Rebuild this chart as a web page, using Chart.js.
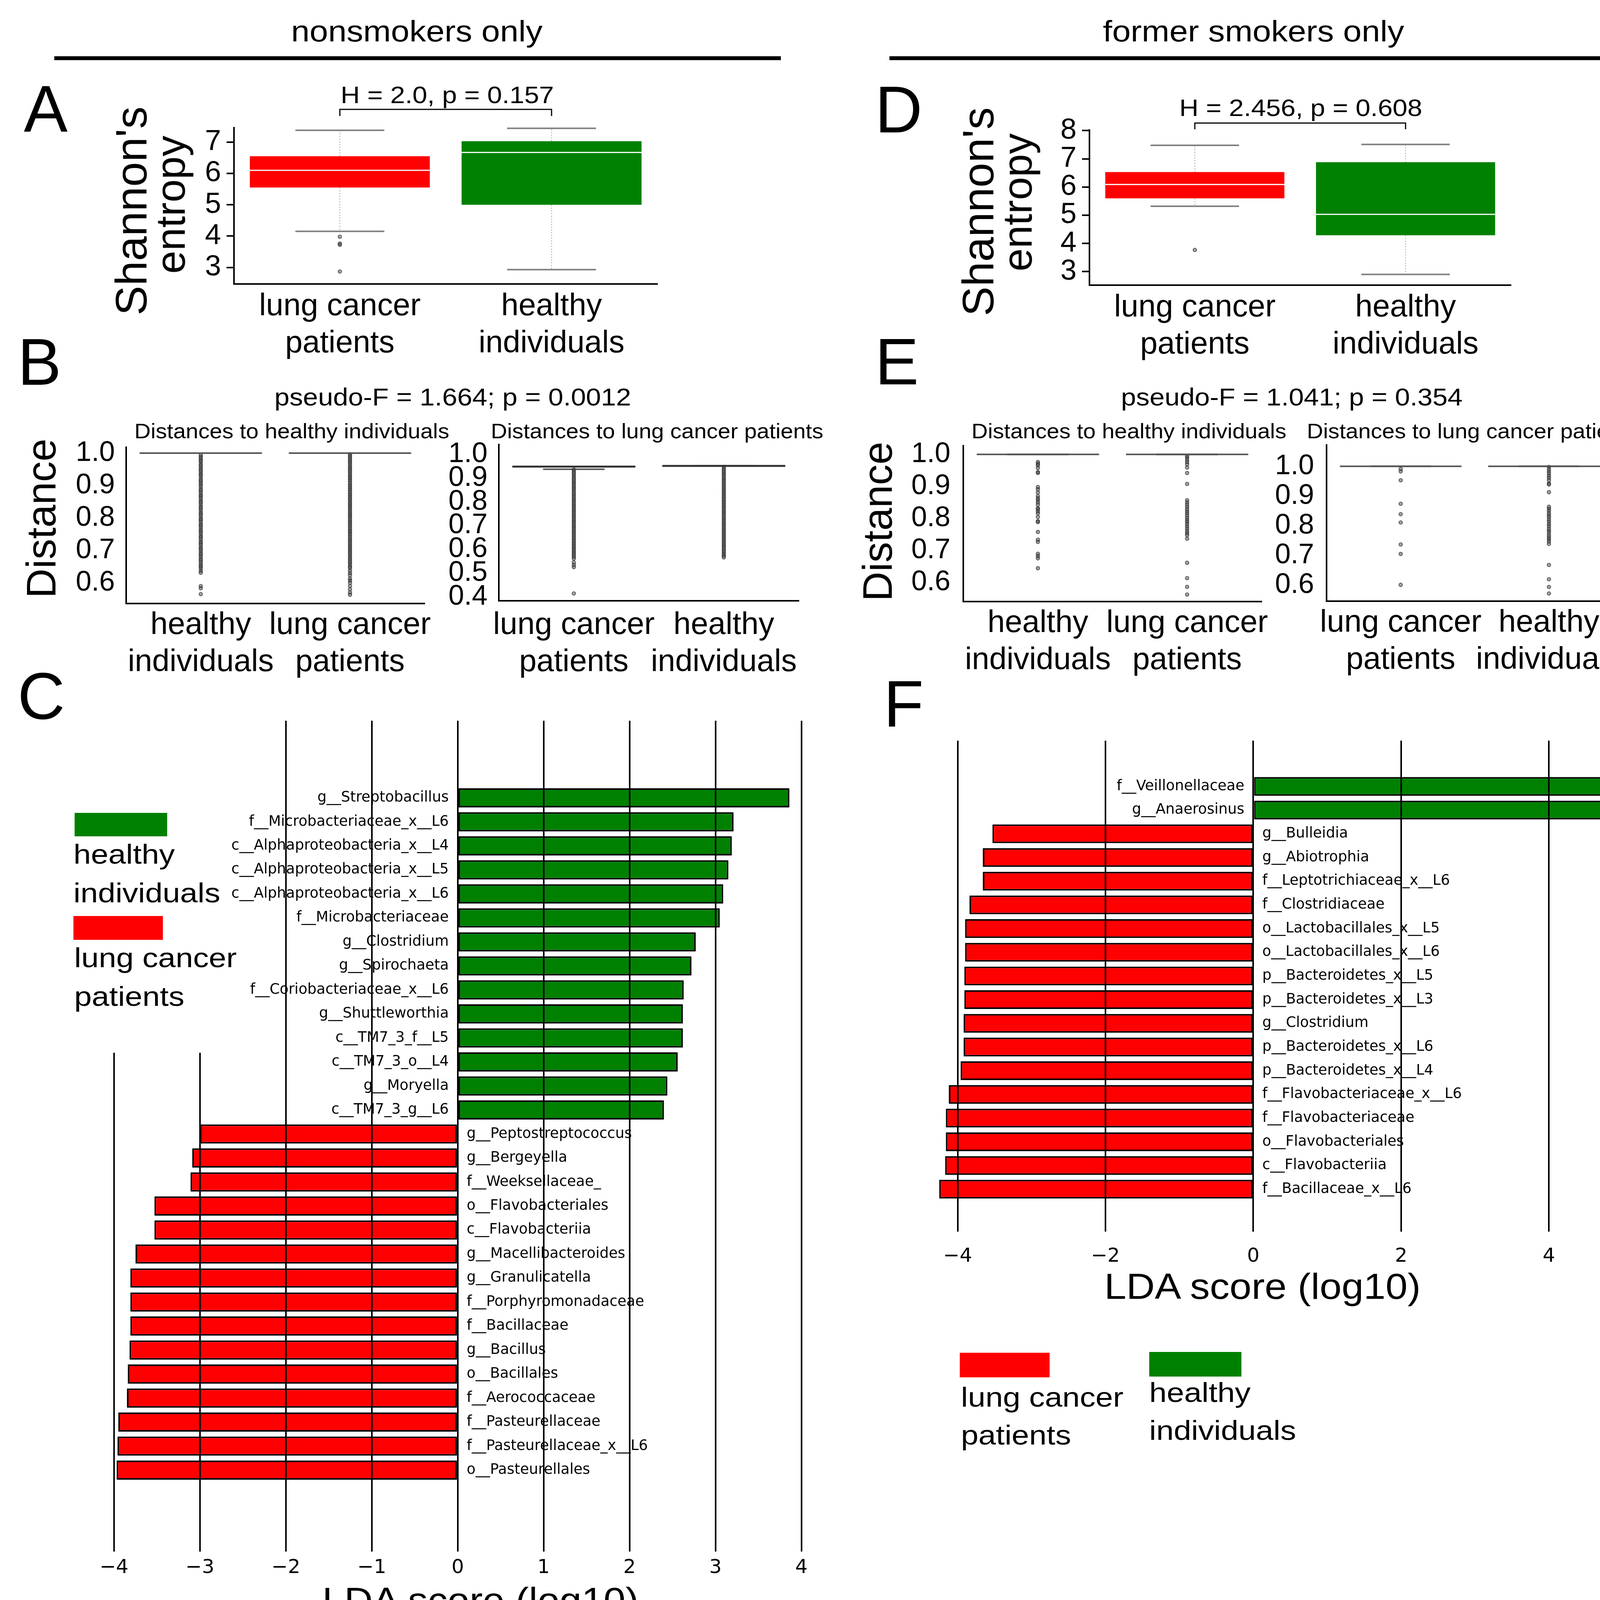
<!DOCTYPE html>
<html><head><meta charset="utf-8"><title>Microbiome diversity and LEfSe</title>
<script src="https://cdn.jsdelivr.net/npm/chart.js@4.4.1/dist/chart.umd.min.js"></script>
<style>
html,body{margin:0;padding:0;background:#fff}
body{position:relative;width:4236px;height:4198px;overflow:hidden}
canvas{position:absolute}
.t{position:absolute;white-space:nowrap;line-height:1;color:#000;font-family:'Liberation Sans',Arial,sans-serif}
.r{position:absolute}
</style></head><body>
<script>
// ================= DATA =================
const groupTitles = ['nonsmokers only', 'former smokers only'];
const lungLines = ['lung cancer', 'patients'];
const healthyLines = ['healthy', 'individuals'];
const catLung = 'lung cancer patients';
const catHealthy = 'healthy individuals';

// Panel A : Shannon entropy, nonsmokers (lung, healthy)
const aLow = [4.15, 2.93];
const aQ1 = [5.55, 5.00];
const aMed = [6.10, 6.67];
const aQ3 = [6.55, 7.03];
const aHigh = [7.38, 7.44];
const aOutLung = [3.98, 3.76, 3.72, 2.87];
const aTicks = [3, 4, 5, 6, 7];
const aStat = 'H = 2.0, p = 0.157';

// Panel D : Shannon entropy, former smokers (lung, healthy)
const dLow = [5.32, 2.90];
const dQ1 = [5.60, 4.29];
const dMed = [6.09, 5.03];
const dQ3 = [6.53, 6.88];
const dHigh = [7.48, 7.51];
const dOutLung = [3.77];
const dTicks = [3, 4, 5, 6, 7, 8];
const dStat = 'H = 2.456, p = 0.608';

// Panel B : distances (nonsmokers)
const bStat = 'pseudo-F = 1.664; p = 0.0012';
const b1Title = 'Distances to healthy individuals';
const b2Title = 'Distances to lung cancer patients';
const b1Box = [1.0, 1.0];             // healthy, lung
const b2Box = [0.949, 0.952];         // lung, healthy
const b2Low = [0.938, 0.952];
const b1Healthy = [0.995,0.989,0.984,0.978,0.973,0.966,0.961,0.955,0.949,0.944,0.937,0.932,0.926,0.919,0.914,0.908,0.902,0.896,0.889,0.884,0.878,0.871,0.866,0.86,0.853,0.848,0.842,0.835,0.83,0.824,0.817,0.812,0.806,0.799,0.794,0.788,0.781,0.776,0.77,0.763,0.758,0.752,0.745,0.74,0.734,0.727,0.722,0.716,0.709,0.704,0.698,0.691,0.686,0.68,0.673,0.668,0.662,0.655,0.65,0.644,0.637,0.631,0.59,0.583,0.565];
const b1Lung = [0.997,0.992,0.986,0.981,0.975,0.97,0.964,0.958,0.953,0.947,0.942,0.936,0.93,0.925,0.919,0.914,0.908,0.902,0.897,0.891,0.886,0.88,0.874,0.869,0.863,0.858,0.852,0.846,0.841,0.835,0.83,0.824,0.818,0.813,0.807,0.802,0.796,0.79,0.785,0.779,0.774,0.768,0.762,0.757,0.751,0.746,0.74,0.734,0.729,0.723,0.718,0.712,0.706,0.701,0.695,0.69,0.684,0.678,0.673,0.667,0.662,0.656,0.65,0.645,0.637,0.63,0.623,0.613,0.607,0.6,0.59,0.58,0.57,0.563];
const b2Lung = [0.936,0.928,0.921,0.913,0.905,0.898,0.89,0.882,0.875,0.867,0.859,0.852,0.844,0.836,0.829,0.821,0.813,0.806,0.798,0.79,0.783,0.775,0.767,0.76,0.752,0.744,0.737,0.729,0.721,0.714,0.706,0.698,0.691,0.683,0.675,0.668,0.66,0.652,0.645,0.637,0.629,0.622,0.614,0.606,0.599,0.591,0.583,0.576,0.568,0.561,0.545,0.534,0.525,0.414];
const b2Healthy = [0.948,0.94,0.933,0.925,0.917,0.91,0.902,0.894,0.887,0.879,0.871,0.864,0.856,0.848,0.841,0.833,0.825,0.818,0.81,0.802,0.795,0.787,0.779,0.772,0.764,0.756,0.749,0.741,0.733,0.726,0.718,0.71,0.703,0.695,0.687,0.68,0.672,0.664,0.657,0.649,0.641,0.634,0.626,0.618,0.611,0.603,0.595,0.588,0.58,0.573,0.566];
const b1Ticks = [0.6, 0.7, 0.8, 0.9, 1.0];
const b2Ticks = [0.4, 0.5, 0.6, 0.7, 0.8, 0.9, 1.0];

// Panel E : distances (former smokers)
const eStat = 'pseudo-F = 1.041; p = 0.354';
const e1Box = [1.0, 1.0];             // healthy, lung
const e2Box = [1.0, 1.0];             // lung, healthy
const e1Healthy = [0.976,0.971,0.966,0.958,0.945,0.942,0.898,0.891,0.881,0.870,0.863,0.857,0.850,0.843,0.832,0.829,0.822,0.816,0.805,0.792,0.789,0.758,0.734,0.727,0.690,0.683,0.676,0.645];
const e1Lung = [0.995,0.990,0.983,0.976,0.969,0.959,0.942,0.908,0.857,0.850,0.843,0.836,0.829,0.822,0.816,0.809,0.802,0.795,0.789,0.782,0.775,0.768,0.761,0.754,0.748,0.737,0.662,0.614,0.587,0.563];
const e2Lung = [0.991,0.983,0.953,0.874,0.839,0.811,0.737,0.705,0.601];
const e2Healthy = [0.998,0.990,0.983,0.976,0.968,0.961,0.953,0.942,0.939,0.913,0.864,0.857,0.850,0.842,0.835,0.828,0.820,0.813,0.805,0.798,0.790,0.783,0.776,0.768,0.761,0.754,0.747,0.739,0.668,0.620,0.594,0.572];
const eTicks = [0.6, 0.7, 0.8, 0.9, 1.0];

// Panel C : LEfSe nonsmokers
const cNames = ['g__Streptobacillus','f__Microbacteriaceae_x__L6','c__Alphaproteobacteria_x__L4','c__Alphaproteobacteria_x__L5','c__Alphaproteobacteria_x__L6','f__Microbacteriaceae','g__Clostridium','g__Spirochaeta','f__Coriobacteriaceae_x__L6','g__Shuttleworthia','c__TM7_3_f__L5','c__TM7_3_o__L4','g__Moryella','c__TM7_3_g__L6','g__Peptostreptococcus','g__Bergeyella','f__Weeksellaceae_','o__Flavobacteriales','c__Flavobacteriia','g__Macellibacteroides','g__Granulicatella','f__Porphyromonadaceae','f__Bacillaceae','g__Bacillus','o__Bacillales','f__Aerococcaceae','f__Pasteurellaceae','f__Pasteurellaceae_x__L6','o__Pasteurellales'];
const cLda = [3.86,3.21,3.19,3.15,3.09,3.05,2.77,2.72,2.63,2.62,2.62,2.56,2.44,2.40,-3.00,-3.09,-3.11,-3.53,-3.53,-3.75,-3.81,-3.81,-3.81,-3.82,-3.84,-3.85,-3.95,-3.96,-3.97];
const cTicks = [-4,-3,-2,-1,0,1,2,3,4];

// Panel F : LEfSe former smokers
const fNames = ['f__Veillonellaceae','g__Anaerosinus','g__Bulleidia','g__Abiotrophia','f__Leptotrichiaceae_x__L6','f__Clostridiaceae','o__Lactobacillales_x__L5','o__Lactobacillales_x__L6','p__Bacteroidetes_x__L5','p__Bacteroidetes_x__L3','g__Clostridium','p__Bacteroidetes_x__L6','p__Bacteroidetes_x__L4','f__Flavobacteriaceae_x__L6','f__Flavobacteriaceae','o__Flavobacteriales','c__Flavobacteriia','f__Bacillaceae_x__L6'];
const fLda = [4.81,4.77,-3.53,-3.66,-3.66,-3.84,-3.90,-3.90,-3.91,-3.91,-3.92,-3.92,-3.96,-4.12,-4.16,-4.16,-4.17,-4.25];
const fTicks = [-4,-2,0,2,4];

const ldaTitle = 'LDA score (log10)';
const yTitleEntropy = ["Shannon's", 'entropy'];
const yTitleDistance = 'Distance';

// ================= STYLE / HELPERS =================
const RED = '#ff0000', GREEN = '#008000';
const ARIAL = "'Liberation Sans', Arial, Helvetica, sans-serif";
const DJ = "'DejaVu Sans', 'Liberation Sans', sans-serif";
Chart.defaults.font.family = ARIAL;
Chart.defaults.color = '#000';

function txt(s, x, base, size, align, sx, family) {
  const d = document.createElement('div');
  d.className = 't';
  d.textContent = s;
  d.style.fontSize = size + 'px';
  if (family) d.style.fontFamily = family;
  d.style.left = x + 'px';
  d.style.top = (base - 0.8465 * size) + 'px';
  const k = sx || 1;
  if (align === 'center') { d.style.transformOrigin = '50% 50%'; d.style.transform = 'translateX(-50%) scaleX(' + k + ')'; }
  else if (align === 'right') { d.style.transformOrigin = '100% 50%'; d.style.transform = 'translateX(-100%) scaleX(' + k + ')'; }
  else { d.style.transformOrigin = '0 50%'; d.style.transform = 'scaleX(' + k + ')'; }
  document.body.appendChild(d);
}
function rtxt(s, cx, cy, size) {
  const d = document.createElement('div');
  d.className = 't';
  d.textContent = s;
  d.style.fontSize = size + 'px';
  d.style.left = cx + 'px';
  d.style.top = cy + 'px';
  d.style.transform = 'translate(-50%,-50%) rotate(-90deg)';
  document.body.appendChild(d);
}
function rect(x, y, w, h, color) {
  const d = document.createElement('div');
  d.className = 'r';
  d.style.left = x + 'px'; d.style.top = y + 'px';
  d.style.width = w + 'px'; d.style.height = h + 'px';
  d.style.background = color;
  document.body.appendChild(d);
}
function mkCanvas(l, t, w, h) {
  const c = document.createElement('canvas');
  c.width = w; c.height = h;
  c.style.left = l + 'px'; c.style.top = t + 'px';
  c.style.width = w + 'px'; c.style.height = h + 'px';
  document.body.appendChild(c);
  return c;
}
function seg(ctx, x1, y1, x2, y2) { ctx.beginPath(); ctx.moveTo(x1, y1); ctx.lineTo(x2, y2); ctx.stroke(); }

// ----- box plot chart built from floating bars + points + plugin whiskers -----
function boxChart(s) {
  const pad = 24, padTop = s.padTop || 60, bottomSpace = 230;
  const W = s.area.r - s.area.l + s.leftSpace + 2 * pad;
  const H = s.area.b - s.area.t + bottomSpace + padTop + pad;
  const c = mkCanvas(s.area.l - s.leftSpace - pad, s.area.t - padTop, W, H);
  const pts = [];
  s.pts.forEach((arr, i) => arr.forEach(v => pts.push({ x: s.cats[i], y: v })));
  const plug = {
    id: 'boxparts',
    beforeDatasetsDraw(chart) {
      const ctx = chart.ctx, x = chart.scales.x, y = chart.scales.y;
      const cw = Math.abs(x.getPixelForValue(1) - x.getPixelForValue(0));
      ctx.save();
      s.low.forEach((lo, i) => {
        const cx = x.getPixelForValue(i);
        ctx.strokeStyle = '#a8a8a8'; ctx.lineWidth = 2; ctx.setLineDash([3, 4]);
        if (s.high[i] > s.q3[i]) seg(ctx, cx, y.getPixelForValue(s.q3[i]), cx, y.getPixelForValue(s.high[i]));
        if (s.q1[i] > lo) seg(ctx, cx, y.getPixelForValue(s.q1[i]), cx, y.getPixelForValue(lo));
        ctx.setLineDash([]); ctx.strokeStyle = s.capColor; ctx.lineWidth = 4;
        const hw = cw * s.capPct / 2;
        seg(ctx, cx - hw, y.getPixelForValue(s.high[i]), cx + hw, y.getPixelForValue(s.high[i]));
        seg(ctx, cx - hw, y.getPixelForValue(lo), cx + hw, y.getPixelForValue(lo));
      });
      ctx.restore();
    },
    afterDatasetsDraw(chart) {
      const ctx = chart.ctx, x = chart.scales.x, y = chart.scales.y;
      const cw = Math.abs(x.getPixelForValue(1) - x.getPixelForValue(0));
      ctx.save();
      ctx.strokeStyle = s.medColor; ctx.lineWidth = s.medWidth || 3;
      s.med.forEach((m, i) => {
        const cx = x.getPixelForValue(i), hw = cw * s.boxPct / 2;
        seg(ctx, cx - hw, y.getPixelForValue(m), cx + hw, y.getPixelForValue(m));
      });
      if (s.bracket) {
        const top = chart.chartArea.top;
        const x0 = x.getPixelForValue(0), x1 = x.getPixelForValue(1);
        const yb = top - s.bracket[0], yd = top - s.bracket[1];
        ctx.strokeStyle = '#000'; ctx.lineWidth = 3;
        ctx.beginPath(); ctx.moveTo(x0, yd); ctx.lineTo(x0, yb); ctx.lineTo(x1, yb); ctx.lineTo(x1, yd); ctx.stroke();
      }
      ctx.restore();
    }
  };
  return new Chart(c, {
    type: 'bar',
    data: {
      labels: s.cats,
      datasets: [
        { type: 'bar', data: s.q1.map((v, i) => [v, s.q3[i]]), backgroundColor: s.colors, borderWidth: 0,
          barPercentage: s.boxPct, categoryPercentage: 1, order: 2 },
        { type: 'line', data: pts, showLine: false, pointRadius: s.ptR, pointBackgroundColor: 'rgba(70,70,70,0.5)',
          pointBorderColor: 'rgba(30,30,30,0.8)', pointBorderWidth: 1.6, order: 1 }
      ]
    },
    options: {
      responsive: false, animation: false, devicePixelRatio: 1,
      layout: { padding: { left: pad, right: pad, top: padTop, bottom: pad } },
      plugins: { legend: { display: false }, tooltip: { enabled: false } },
      scales: {
        x: {
          type: 'category', offset: true,
          grid: { display: false },
          border: { display: true, color: '#000', width: 4 },
          ticks: { callback: (v, i) => s.lines[i], font: { size: 80, lineHeight: 1.19 }, color: '#000',
                   padding: s.xPad, maxRotation: 0, minRotation: 0, autoSkip: false },
          afterFit: sc => { sc.height = bottomSpace; }
        },
        y: {
          min: s.yMin, max: s.yMax,
          afterBuildTicks: sc => { sc.ticks = s.yTicks.map(v => ({ value: v })); },
          grid: { display: s.tickMarks, drawOnChartArea: false, drawTicks: true, tickLength: 19, color: '#000', lineWidth: 4 },
          border: { display: true, color: '#000', width: 4 },
          ticks: { callback: (v, i) => s.yLabels[i], font: { size: s.yFont }, color: '#000', padding: s.yPad, autoSkip: false },
          afterFit: sc => { sc.width = s.leftSpace; }
        }
      }
    },
    plugins: [plug]
  });
}

// ----- LEfSe horizontal bars -----
function ldaChart(s) {
  const pad = 10;
  const W = s.area.r - s.area.l + 2 * pad;
  const H = s.area.b - s.area.t + s.bottomSpace + 2 * pad;
  const c = mkCanvas(s.area.l - pad, s.area.t - pad, W, H);
  const plug = {
    id: 'ldalabels',
    afterDatasetsDraw(chart) {
      const ctx = chart.ctx, x = chart.scales.x, y = chart.scales.y;
      const x0 = x.getPixelForValue(0);
      ctx.save();
      ctx.font = '37px ' + DJ; ctx.fillStyle = '#000'; ctx.textBaseline = 'middle';
      s.names.forEach((n, i) => {
        const py = y.getPixelForValue(i);
        if (s.vals[i] > 0) { ctx.textAlign = 'right'; ctx.fillText(n, x0 - 23, py); }
        else { ctx.textAlign = 'left'; ctx.fillText(n, x0 + 23, py); }
      });
      ctx.restore();
    }
  };
  return new Chart(c, {
    type: 'bar',
    data: {
      datasets: [{
        data: s.vals.map((v, i) => ({ x: v, y: i })),
        backgroundColor: s.vals.map(v => v > 0 ? GREEN : RED),
        borderColor: '#000', borderWidth: 4, borderSkipped: false,
        barPercentage: 0.8, categoryPercentage: 1
      }]
    },
    options: {
      indexAxis: 'y', responsive: false, animation: false, devicePixelRatio: 1,
      layout: { padding: pad },
      plugins: { legend: { display: false }, tooltip: { enabled: false } },
      scales: {
        y: { type: 'linear', reverse: true, min: s.yMin, max: s.yMax, display: false },
        x: {
          type: 'linear', min: s.xMin, max: s.xMax,
          afterBuildTicks: sc => { sc.ticks = s.ticks.map(v => ({ value: v })); },
          grid: { color: '#000', lineWidth: 4, z: 1, drawTicks: false },
          border: { display: false },
          ticks: { callback: (v, i) => String(s.ticks[i]).replace('-', '\u2212'), font: { family: DJ, size: 50 },
                   color: '#000', padding: s.tickPad, maxRotation: 0, autoSkip: false },
          afterFit: sc => { sc.height = s.bottomSpace; }
        }
      }
    },
    plugins: [plug]
  });
}

// ================= BUILD =================
// Panel A
boxChart({
  area: { l: 599, t: 327, r: 1683, b: 727 }, leftSpace: 120, padTop: 80,
  cats: [catLung, catHealthy], lines: [lungLines, healthyLines], colors: [RED, GREEN],
  low: aLow, q1: aQ1, med: aMed, q3: aQ3, high: aHigh, pts: [aOutLung, []],
  yMin: 2.47, yMax: 7.46, yTicks: aTicks, yLabels: aTicks.map(String), yFont: 74, yPad: 14, tickMarks: true,
  boxPct: 0.85, capPct: 0.42, capColor: '#808080', medColor: '#ffffff', medWidth: 3, ptR: 4.5,
  xPad: 2, bracket: [47, 30]
});
// Panel D
boxChart({
  area: { l: 2789, t: 333, r: 3868, b: 730 }, leftSpace: 120, padTop: 80,
  cats: [catLung, catHealthy], lines: [lungLines, healthyLines], colors: [RED, GREEN],
  low: dLow, q1: dQ1, med: dMed, q3: dQ3, high: dHigh, pts: [dOutLung, []],
  yMin: 2.52, yMax: 8.02, yTicks: dTicks, yLabels: dTicks.map(String), yFont: 74, yPad: 14, tickMarks: true,
  boxPct: 0.85, capPct: 0.42, capColor: '#808080', medColor: '#ffffff', medWidth: 3, ptR: 4.5,
  xPad: 2, bracket: [18, 2]
});
// Panel B
boxChart({
  area: { l: 323, t: 1145, r: 1087, b: 1545 }, leftSpace: 130,
  cats: [catHealthy, catLung], lines: [healthyLines, lungLines], colors: ['rgba(0,0,0,0)', 'rgba(0,0,0,0)'],
  low: b1Box, q1: b1Box, med: b1Box, q3: b1Box, high: b1Box, pts: [b1Healthy, b1Lung],
  yMin: 0.536, yMax: 1.018, yTicks: b1Ticks, yLabels: b1Ticks.map(v => v.toFixed(1)), yFont: 72, yPad: 10, tickMarks: false,
  boxPct: 0.82, capPct: 0.41, capColor: '#555555', medColor: '#555555', medWidth: 4, ptR: 4.5, xPad: 0
});
boxChart({
  area: { l: 1277, t: 1138, r: 2045, b: 1538 }, leftSpace: 130,
  cats: [catLung, catHealthy], lines: [lungLines, healthyLines], colors: ['rgba(0,0,0,0)', 'rgba(0,0,0,0)'],
  low: b2Low, q1: b2Box, med: b2Box, q3: b2Box, high: b2Box, pts: [b2Lung, b2Healthy],
  yMin: 0.383, yMax: 1.042, yTicks: b2Ticks, yLabels: b2Ticks.map(v => v.toFixed(1)), yFont: 72, yPad: 10, tickMarks: false,
  boxPct: 0.82, capPct: 0.41, capColor: '#555555', medColor: '#333333', medWidth: 5, ptR: 4.5, xPad: 7
});
// Panel E
boxChart({
  area: { l: 2466, t: 1141, r: 3230, b: 1540 }, leftSpace: 130,
  cats: [catHealthy, catLung], lines: [healthyLines, lungLines], colors: ['rgba(0,0,0,0)', 'rgba(0,0,0,0)'],
  low: e1Box, q1: e1Box, med: e1Box, q3: e1Box, high: e1Box, pts: [e1Healthy, e1Lung],
  yMin: 0.541, yMax: 1.027, yTicks: eTicks, yLabels: eTicks.map(v => v.toFixed(1)), yFont: 72, yPad: 14, tickMarks: false,
  boxPct: 0.82, capPct: 0.41, capColor: '#555555', medColor: '#555555', medWidth: 4, ptR: 4.5, xPad: 0
});
boxChart({
  area: { l: 3396, t: 1139, r: 4155, b: 1539 }, leftSpace: 130,
  cats: [catLung, catHealthy], lines: [lungLines, healthyLines], colors: ['rgba(0,0,0,0)', 'rgba(0,0,0,0)'],
  low: e2Box, q1: e2Box, med: e2Box, q3: e2Box, high: e2Box, pts: [e2Lung, e2Healthy],
  yMin: 0.546, yMax: 1.072, yTicks: eTicks, yLabels: eTicks.map(v => v.toFixed(1)), yFont: 72, yPad: 13, tickMarks: false,
  boxPct: 0.82, capPct: 0.41, capColor: '#555555', medColor: '#555555', medWidth: 4, ptR: 4.5, xPad: 0
});
// Panel C
ldaChart({
  area: { l: 248, t: 1845, r: 2210, b: 3972 }, bottomSpace: 110, tickPad: 12,
  names: cNames, vals: cLda, ticks: cTicks, xMin: -4.2, xMax: 4.72, yMin: -1.05, yMax: 29.23
});
// Panel F
ldaChart({
  area: { l: 2376, t: 1896, r: 4145, b: 3153 }, bottomSpace: 110, tickPad: 34,
  names: fNames, vals: fLda, ticks: fTicks, xMin: -4.4, xMax: 4.95, yMin: -0.99, yMax: 17.85
});

// ================= TEXT / DECORATION =================
txt(groupTitles[0], 1067, 106, 76, 'center', 1.12);
txt(groupTitles[1], 3209, 106, 76, 'center', 1.12);
rect(139, 144, 1860, 10, '#000');
rect(2277, 144, 1861, 10, '#000');

txt('A', 61, 337, 168, 'left');
txt('B', 45, 985, 168, 'left');
txt('C', 45, 1840, 168, 'left');
txt('D', 2240, 339, 168, 'left');
txt('E', 2240, 984, 168, 'left');
txt('F', 2262, 1860, 168, 'left');

txt(aStat, 1145, 264, 62, 'center', 1.1);
txt(dStat, 3330, 297, 62, 'center', 1.1);
rtxt(yTitleEntropy[0], 336, 540, 114);
rtxt(yTitleEntropy[1], 436, 524, 106);
rtxt(yTitleEntropy[0], 2504, 542, 114);
rtxt(yTitleEntropy[1], 2604, 518, 106);

txt(bStat, 1159, 1038, 63, 'center', 1.1);
txt(eStat, 3307, 1038, 63, 'center', 1.1);
txt(b1Title, 747, 1122, 54, 'center', 1.07);
txt(b2Title, 1682, 1122, 54, 'center', 1.07);
txt(b1Title, 2890, 1122, 54, 'center', 1.07);
txt(b2Title, 3771, 1122, 54, 'center', 1.07);
rtxt(yTitleDistance, 105, 1327, 105);
rtxt(yTitleDistance, 2246, 1335, 105);

txt(ldaTitle, 1230, 4129, 92, 'center', 1.1);
txt(ldaTitle, 3232, 3325, 92, 'center', 1.1);

// Panel C legend (white legend frame hides the grid lines behind it)
rect(175, 1838, 380, 857, '#ffffff');
rect(191, 2081, 237, 60, GREEN);
txt(healthyLines[0], 188, 2211, 70, 'left', 1.15);
txt(healthyLines[1], 188, 2310, 70, 'left', 1.15);
rect(188, 2345, 229, 61, RED);
txt(lungLines[0], 190, 2476, 70, 'left', 1.15);
txt(lungLines[1], 190, 2575, 70, 'left', 1.15);

// Panel F legend
rect(2457, 3463, 230, 63, RED);
txt(lungLines[0], 2460, 3601, 70, 'left', 1.15);
txt(lungLines[1], 2460, 3698, 70, 'left', 1.15);
rect(2942, 3461, 236, 63, GREEN);
txt(healthyLines[0], 2942, 3589, 70, 'left', 1.15);
txt(healthyLines[1], 2942, 3686, 70, 'left', 1.15);
</script>
</body></html>
